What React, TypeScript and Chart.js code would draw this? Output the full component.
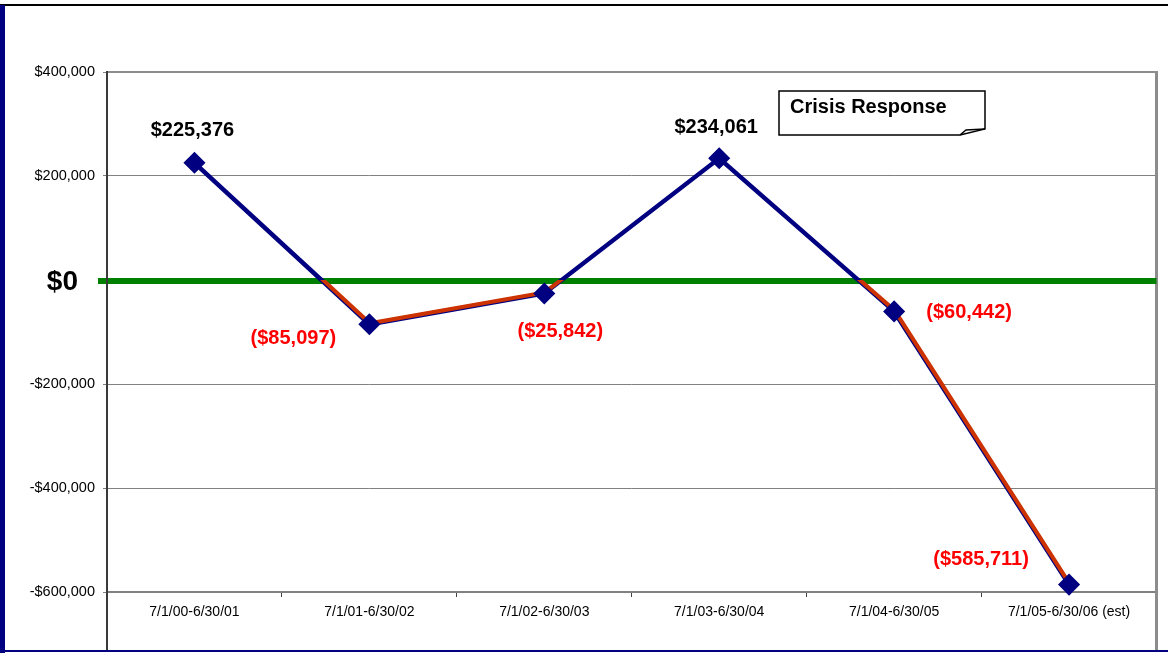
import React, { useEffect, useRef } from 'react';
import { Chart, registerables } from 'chart.js';

Chart.register(...registerables);

const categories = [
  '7/1/00-6/30/01',
  '7/1/01-6/30/02',
  '7/1/02-6/30/03',
  '7/1/03-6/30/04',
  '7/1/04-6/30/05',
  '7/1/05-6/30/06 (est)',
];
const netValues = [225376, -85097, -25842, 234061, -60442, -585711];
const yTickValues = [-600000, -400000, -200000, 0, 200000, 400000];
const calloutText = 'Crisis Response';
const zeroLabel = '$0';

const W = 1168;
const H = 653;
const FONT = '"Liberation Sans", Arial, sans-serif';
const NAVY = '#000080';
const ORANGE = '#CC3300';
const GREEN = '#008000';

// label offsets (px) relative to each point
const LABEL_OFFSETS: [number, number][] = [
  [-2, -32],
  [-76, 14],
  [16, 38],
  [-3, -31],
  [75, 1],
  [-88, -25],
];

const fmtMoney = (v: number) =>
  v < 0 ? '($' + Math.abs(v).toLocaleString('en-US') + ')' : '$' + v.toLocaleString('en-US');
const fmtTick = (v: number) =>
  v < 0 ? '-$' + Math.abs(v).toLocaleString('en-US') : '$' + v.toLocaleString('en-US');

const decorPlugin = {
  id: 'decor',
  beforeDraw(chart: any) {
    const ctx = chart.ctx;
    ctx.save();
    ctx.fillStyle = '#ffffff';
    ctx.fillRect(0, 0, W, H);
    // frame
    ctx.fillStyle = '#000000';
    ctx.fillRect(0, 4, W, 2);
    ctx.fillStyle = NAVY;
    ctx.fillRect(0, 5, 5, H - 5);
    ctx.fillRect(0, 650, W, 2);
    ctx.restore();
  },
  beforeDatasetsDraw(chart: any) {
    const ctx = chart.ctx;
    const { left, right, top } = chart.chartArea;
    const y = chart.scales.y;
    const zy = y.getPixelForValue(0);
    ctx.save();
    // plot area top & right borders
    ctx.strokeStyle = '#8c8c8c';
    ctx.lineWidth = 2;
    ctx.beginPath();
    ctx.moveTo(left, top);
    ctx.lineTo(right, top);
    ctx.stroke();
    ctx.lineWidth = 3;
    ctx.beginPath();
    ctx.moveTo(right, top - 1);
    ctx.lineTo(right, 650);
    ctx.stroke();
    // zero line
    ctx.strokeStyle = GREEN;
    ctx.lineWidth = 6;
    ctx.beginPath();
    ctx.moveTo(left - 9, zy + 1);
    ctx.lineTo(right, zy + 1);
    ctx.stroke();
    // y axis line
    ctx.strokeStyle = '#3a3a3a';
    ctx.lineWidth = 2;
    ctx.beginPath();
    ctx.moveTo(left, top - 1);
    ctx.lineTo(left, 650);
    ctx.stroke();
    // $0 label
    ctx.fillStyle = '#000';
    ctx.font = 'bold 28px ' + FONT;
    ctx.textAlign = 'right';
    ctx.textBaseline = 'middle';
    ctx.fillText(zeroLabel, left - 29, zy + 2);
    ctx.restore();
  },
  beforeDatasetDraw(chart: any, args: any) {
    if (args.index !== 1) return;
    const ctx = chart.ctx;
    const zy = chart.scales.y.getPixelForValue(0);
    ctx.save();
    ctx.beginPath();
    ctx.rect(0, zy, W, H - zy);
    ctx.clip();
    ctx.translate(0.5, -1);
  },
  afterDatasetDraw(chart: any, args: any) {
    if (args.index !== 1) return;
    chart.ctx.restore();
  },
  afterDatasetsDraw(chart: any) {
    const ctx = chart.ctx;
    const meta = chart.getDatasetMeta(0);
    ctx.save();
    ctx.font = 'bold 20px ' + FONT;
    ctx.textAlign = 'center';
    ctx.textBaseline = 'middle';
    meta.data.forEach((pt: any, i: number) => {
      const v = netValues[i];
      ctx.fillStyle = v < 0 ? '#FF0000' : '#000000';
      const [dx, dy] = LABEL_OFFSETS[i];
      ctx.fillText(fmtMoney(v), pt.x + dx, pt.y + dy);
    });
    // callout box
    const bx = 779, by = 91, bw = 206, bh = 44;
    ctx.fillStyle = '#ffffff';
    ctx.strokeStyle = '#000000';
    ctx.lineWidth = 1.5;
    ctx.beginPath();
    ctx.moveTo(bx, by);
    ctx.lineTo(bx + bw, by);
    ctx.lineTo(bx + bw, by + bh - 6);
    ctx.lineTo(bx + bw - 25, by + bh);
    ctx.lineTo(bx, by + bh);
    ctx.closePath();
    ctx.fill();
    ctx.stroke();
    ctx.beginPath();
    ctx.moveTo(bx + bw - 25, by + bh);
    ctx.lineTo(bx + bw - 19, by + bh - 5);
    ctx.lineTo(bx + bw, by + bh - 6);
    ctx.stroke();
    ctx.fillStyle = '#000';
    ctx.textAlign = 'left';
    ctx.textBaseline = 'alphabetic';
    ctx.font = 'bold 20px ' + FONT;
    ctx.fillText(calloutText, bx + 11, by + 22);
    ctx.restore();
  },
};

export default function App() {
  const ref = useRef<HTMLCanvasElement | null>(null);
  useEffect(() => {
    document.body.style.margin = '0';
    const canvas = ref.current!;
    const chart = new Chart(canvas, {
      type: 'line',
      data: {
        labels: categories,
        datasets: [
          {
            data: netValues,
            showLine: false,
            pointStyle: 'rectRot',
            pointRadius: 10,
            pointBackgroundColor: NAVY,
            pointBorderColor: NAVY,
            pointBorderWidth: 1.5,
            clip: false,
          },
          {
            data: netValues,
            borderColor: ORANGE,
            borderWidth: 4,
            pointRadius: 0,
            clip: false,
          },
          {
            data: netValues,
            borderColor: NAVY,
            borderWidth: 4.5,
            pointRadius: 0,
            clip: false,
          },
        ],
      } as any,
      options: {
        responsive: false,
        animation: false,
        events: [],
        layout: { padding: { left: 0, top: 72, right: 10, bottom: 0 } },
        plugins: { legend: { display: false }, tooltip: { enabled: false } },
        scales: {
          x: {
            type: 'category',
            offset: true,
            afterFit: (s: any) => {
              s.height = 61;
            },
            grid: {
              offset: true,
              drawOnChartArea: false,
              drawTicks: true,
              tickLength: 5,
              color: '#404040',
            },
            border: { display: true, color: '#808080', width: 2 },
            ticks: {
              color: '#000',
              font: { family: FONT, size: 14 },
              padding: 7,
              maxRotation: 0,
              autoSkip: false,
            },
          },
          y: {
            min: -600000,
            max: 400000,
            afterFit: (s: any) => {
              s.width = 107;
            },
            afterBuildTicks: (s: any) => {
              s.ticks = yTickValues.map((v) => ({ value: v }));
            },
            grid: {
              color: '#808080',
              lineWidth: 1,
              drawTicks: true,
              tickLength: 4,
            },
            border: { display: false },
            ticks: {
              color: '#000',
              font: { family: FONT, size: 14.5 },
              padding: 8,
              callback: (v: any) => (Number(v) === 0 ? '' : fmtTick(Number(v))),
            },
          },
        },
      } as any,
      plugins: [decorPlugin],
    });
    return () => chart.destroy();
  }, []);
  return (
    <canvas
      ref={ref}
      width={W}
      height={H}
      style={{ display: 'block', width: W, height: H, position: 'absolute', left: 0, top: 0 }}
    />
  );
}
